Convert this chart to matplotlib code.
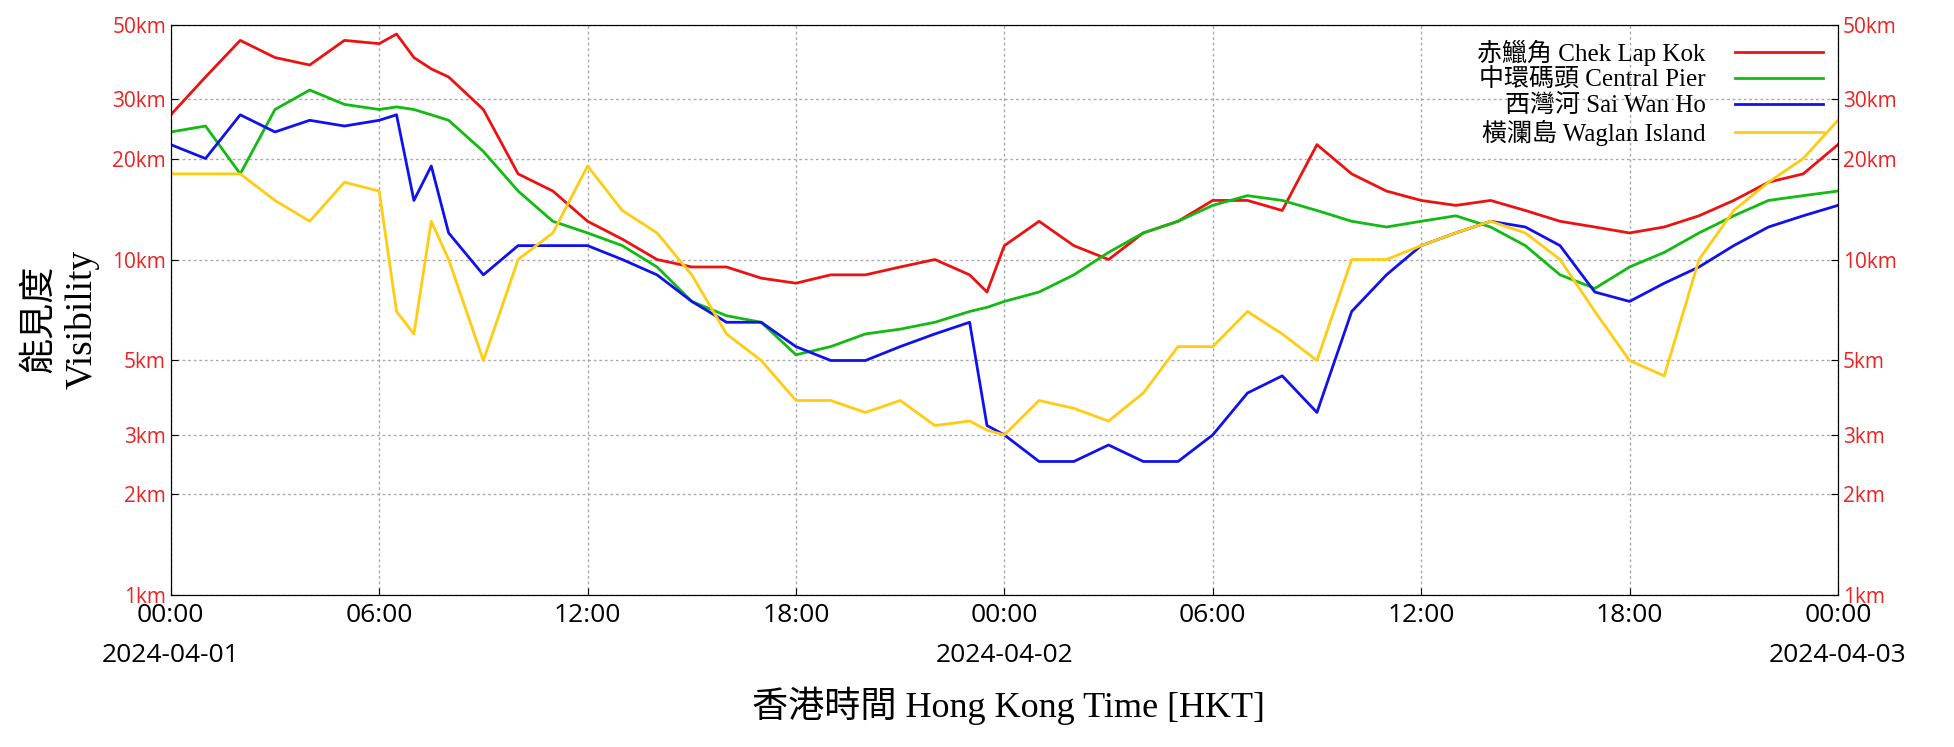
import matplotlib
matplotlib.use("Agg")
import matplotlib.pyplot as plt
from matplotlib.ticker import FixedLocator, NullLocator

# hours since 2024-04-01 00:00 HKT
hours = [0, 1, 2, 3, 4, 5, 6, 6.5, 7, 7.5, 8, 9, 10, 11, 12, 13, 14, 15, 16, 17, 18, 19, 20,
         21, 22, 23, 23.5, 24, 25, 26, 27, 28, 29, 30, 31, 32, 33, 34, 35, 36, 37, 38, 39,
         40, 41, 42, 43, 44, 45, 46, 47, 48]

chek_lap_kok = [27, 35, 45, 40, 38, 45, 44, 47, 40, 37, 35, 28, 18, 16, 13, 11.5, 10, 9.5, 9.5,
                8.8, 8.5, 9, 9, 9.5, 10, 9, 8, 11, 13, 11, 10, 12, 13, 15, 15, 14, 22, 18, 16,
                15, 14.5, 15, 14, 13, 12.5, 12, 12.5, 13.5, 15, 17, 18, 22]
central_pier = [24, 25, 18, 28, 32, 29, 28, 28.5, 28, 27, 26, 21, 16, 13, 12, 11, 9.5, 7.5, 6.8,
                6.5, 5.2, 5.5, 6, 6.2, 6.5, 7, 7.2, 7.5, 8, 9, 10.5, 12, 13, 14.5, 15.5, 15, 14,
                13, 12.5, 13, 13.5, 12.5, 11, 9, 8.2, 9.5, 10.5, 12, 13.5, 15, 15.5, 16]
sai_wan_ho = [22, 20, 27, 24, 26, 25, 26, 27, 15, 19, 12, 9, 11, 11, 11, 10, 9, 7.5, 6.5, 6.5,
              5.5, 5, 5, 5.5, 6, 6.5, 3.2, 3, 2.5, 2.5, 2.8, 2.5, 2.5, 3, 4, 4.5, 3.5, 7, 9,
              11, 12, 13, 12.5, 11, 8, 7.5, 8.5, 9.5, 11, 12.5, 13.5, 14.5]
waglan_island = [18, 18, 18, 15, 13, 17, 16, 7, 6, 13, 10, 5, 10, 12, 19, 14, 12, 9, 6, 5, 3.8,
                 3.8, 3.5, 3.8, 3.2, 3.3, 3.1, 3, 3.8, 3.6, 3.3, 4, 5.5, 5.5, 7, 6, 5, 10, 10,
                 11, 12, 13, 12, 10, 7, 5, 4.5, 10, 14, 17, 20, 26]

series = [
    ("赤鱲角 Chek Lap Kok", chek_lap_kok, "#ee1111"),
    ("中環碼頭 Central Pier", central_pier, "#11bb11"),
    ("西灣河 Sai Wan Ho", sai_wan_ho, "#1111ee"),
    ("橫瀾島 Waglan Island", waglan_island, "#ffcc11"),
]

ytick_vals = [1, 2, 3, 5, 10, 20, 30, 50]
ytick_labels = ["1km", "2km", "3km", "5km", "10km", "20km", "30km", "50km"]
xtick_vals = [0, 6, 12, 18, 24, 30, 36, 42, 48]
xtick_labels = ["00:00", "06:00", "12:00", "18:00", "00:00", "06:00", "12:00", "18:00", "00:00"]
date_labels = [(0, "2024-04-01"), (24, "2024-04-02"), (48, "2024-04-03")]

serif = ["Liberation Serif", "Noto Sans CJK TC"]
sans = ["Open Sans", "DejaVu Sans"]

fig = plt.figure(figsize=(19.54, 7.47), dpi=100)
ax = fig.add_axes([0.0874, 0.2035, 0.8532, 0.763])

for name, vals, col in series:
    ax.plot(hours, vals, color=col, lw=2, label=name)

ax.set_yscale("log")
ax.set_ylim(1, 50)
ax.set_xlim(0, 48)
ax.yaxis.set_major_locator(FixedLocator(ytick_vals))
ax.yaxis.set_minor_locator(NullLocator())
ax.set_yticklabels(ytick_labels, family=sans, fontsize=15, color="#ee2222")
ax.set_xticks(xtick_vals)
ax.set_xticklabels(xtick_labels, family=sans, fontsize=19)
ax.tick_params(direction="in", length=5)
ax.tick_params(axis="x", pad=6)
ax.grid(True, color="#aaaaaa", ls=(0, (2, 2)), lw=1)

ax2 = ax.twinx()
ax2.set_yscale("log")
ax2.set_ylim(1, 50)
ax2.yaxis.set_major_locator(FixedLocator(ytick_vals))
ax2.yaxis.set_minor_locator(NullLocator())
ax2.set_yticklabels(ytick_labels, family=sans, fontsize=15, color="#ee2222")
ax2.tick_params(direction="in", length=5)

for h, d in date_labels:
    ax.text(h, -0.085, d, transform=ax.get_xaxis_transform(), ha="center", va="top",
            family=sans, fontsize=19)

fig.text(0.516, 0.055, "香港時間 Hong Kong Time [HKT]", ha="center", va="center",
         family=serif, fontsize=26)
fig.text(0.02, 0.573, "能見度", rotation=90, ha="center", va="center",
         family=serif, fontsize=26)
fig.text(0.042, 0.573, "Visibility", rotation=90, ha="center", va="center",
         family=serif, fontsize=27)

leg = ax.legend(loc="upper right", frameon=False, prop={"family": serif, "size": 18},
                markerfirst=False, handlelength=3.5, labelspacing=0.1,
                borderaxespad=0.2, handletextpad=1.2)

plt.savefig("out.png", dpi=100)
